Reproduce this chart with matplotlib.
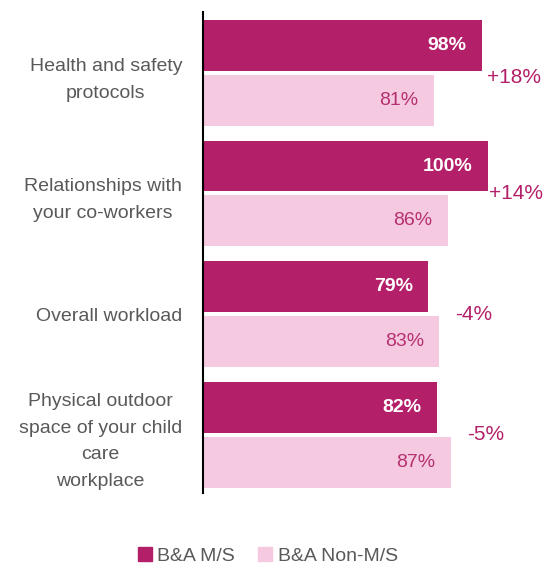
import matplotlib.pyplot as plt
from matplotlib.patches import Patch
import numpy as np

plt.rcParams['font.family'] = ['Liberation Sans Narrow', 'Liberation Sans', 'DejaVu Sans']

categories = ["Health and safety\nprotocols",
              "Relationships with\nyour co-workers",
              "Overall workload",
              "Physical outdoor\nspace of your child\ncare\nworkplace"]
ms_values = [98, 100, 79, 82]
non_ms_values = [81, 86, 83, 87]
diff_labels = ["+18%", "+14%", "-4%", "-5%"]
series_names = ["B&A M/S", "B&A Non-M/S"]

dark = "#B31F68"
light = "#F5C9E0"
gray = "#595959"

fig = plt.figure(figsize=(5.45, 5.67), dpi=100)
ax = fig.add_axes([0.3725, 0.1305, 0.6275, 0.8484])

y = np.arange(len(categories))
h = 0.423
off = 0.228
ax.barh(y - off, ms_values, height=h, color=dark)
ax.barh(y + off, non_ms_values, height=h, color=light)

for i in range(len(categories)):
    ax.annotate(f"{ms_values[i]}%", (ms_values[i], y[i] - off), xytext=(-11, 0),
                textcoords="offset points", ha="right", va="center",
                color="white", fontsize=14, fontweight="bold")
    ax.annotate(f"{non_ms_values[i]}%", (non_ms_values[i], y[i] + off), xytext=(-11, 0),
                textcoords="offset points", ha="right", va="center",
                color="#B5306E", fontsize=14)

# gap label to the right of the longer bar
shift = [(3.6, -3), (0.7, 0), (11.5, 0), (12, 0)]
for i in range(len(categories)):
    top = max(ms_values[i], non_ms_values[i])
    ax.annotate(diff_labels[i], (top, y[i]), xytext=shift[i],
                textcoords="offset points", ha="left", va="center",
                color=dark, fontsize=15)

ax.set_xlim(0, 120.1)
ax.set_ylim(3.485, -0.506)
ax.set_yticks(y)
ax.set_yticklabels(categories)
for lab in ax.get_yticklabels():
    lab.set_fontsize(14)
    lab.set_color(gray)
    lab.set_multialignment("center")
    lab.set_linespacing(1.75)
ax.tick_params(axis="y", length=0, pad=15)
ax.set_xticks([])
for s in ["top", "right", "bottom"]:
    ax.spines[s].set_visible(False)
ax.spines["left"].set_linewidth(1.5)
ax.spines["left"].set_color("black")

handles = [Patch(color=dark), Patch(color=light)]
leg = fig.legend(handles, series_names, loc="center", bbox_to_anchor=(268 / 545, 1 - 556 / 567),
                 ncol=2, frameon=False, fontsize=14, handlelength=0.7, handleheight=0.7,
                 handletextpad=0.3, columnspacing=1.2)
for t in leg.get_texts():
    t.set_color(gray)

fig.savefig("out.png", dpi=100)
